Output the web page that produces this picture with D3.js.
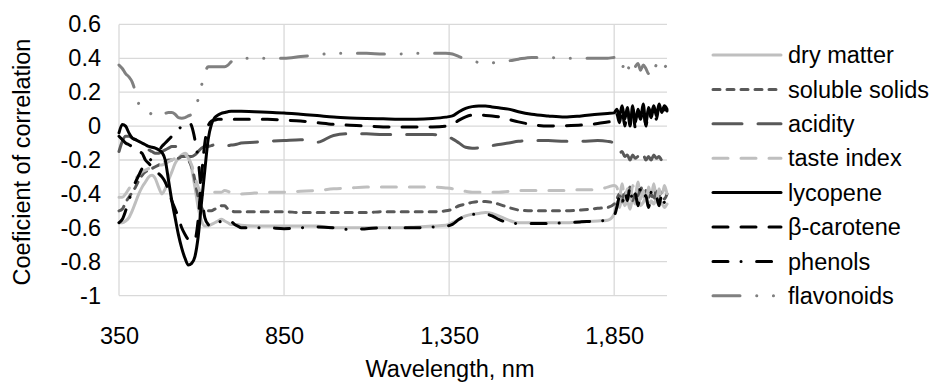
<!DOCTYPE html>
<html>
<head>
<meta charset="utf-8">
<script src="https://cdn.jsdelivr.net/npm/d3@7"></script>
<style>
  html, body { margin: 0; padding: 0; background: #fff; }
  svg { display: block; }
  text { font-family: "Liberation Sans", Arial, sans-serif; fill: #000; }
</style>
</head>
<body>
<svg id="chart" width="933" height="384"></svg>
<script>
// ---------- DATA ----------
const wavelengths = [
  350,360,370,380,390,400,410,420,430,440,450,460,470,480,490,500,510,520,530,540,
  550,560,570,580,590,600,610,620,630,640,650,660,670,680,690,700,710,720,
  760,800,850,900,950,1000,1050,1100,1150,1200,1250,1300,1340,1360,1380,1400,1420,1440,1460,1480,
  1500,1530,1560,1600,1650,1700,1750,1800,1830,1850,
  1858,1866,1874,1882,1890,1898,1906,1914,1922,1930,1938,1946,1954,1962,1970,1978,1986,1994,2002,2010
];

const dryMatter = [
  -0.57,-0.57,-0.56,-0.54,-0.5,-0.45,-0.4,-0.36,-0.33,-0.3,-0.29,-0.31,-0.36,-0.4,-0.37,-0.32,-0.27,-0.22,-0.19,-0.17,
  -0.16,-0.18,-0.25,-0.36,-0.48,-0.56,-0.59,-0.59,-0.58,-0.57,-0.56,-0.55,-0.56,-0.57,-0.58,-0.58,-0.58,-0.585,
  -0.59,-0.59,-0.59,-0.59,-0.59,-0.6,-0.6,-0.6,-0.6,-0.6,-0.595,-0.59,-0.585,-0.57,-0.55,-0.53,-0.52,-0.515,-0.51,-0.515,
  -0.53,-0.555,-0.57,-0.57,-0.57,-0.57,-0.565,-0.56,-0.555,-0.52,
  -0.45,-0.48,-0.42,-0.47,-0.44,-0.49,-0.43,-0.46,-0.4,-0.47,-0.45,-0.42,-0.48,-0.44,-0.46,-0.43,-0.47,-0.45,-0.48,-0.46
];

const solubleSolids = [
  -0.5,-0.49,-0.45,-0.42,-0.39,-0.36,-0.32,-0.29,-0.27,-0.26,-0.25,-0.24,-0.23,-0.22,-0.21,-0.2,-0.2,-0.19,-0.19,-0.18,
  -0.18,-0.2,-0.24,-0.32,-0.42,-0.48,-0.5,-0.5,-0.5,-0.49,-0.48,-0.47,-0.47,-0.49,-0.5,-0.505,-0.505,-0.505,
  -0.505,-0.505,-0.505,-0.51,-0.51,-0.51,-0.51,-0.51,-0.505,-0.505,-0.505,-0.505,-0.5,-0.49,-0.47,-0.46,-0.45,-0.445,-0.445,-0.45,
  -0.46,-0.48,-0.495,-0.5,-0.5,-0.5,-0.495,-0.485,-0.48,-0.46,
  -0.43,-0.4,-0.45,-0.38,-0.42,-0.36,-0.44,-0.39,-0.41,-0.35,-0.43,-0.38,-0.42,-0.4,-0.44,-0.37,-0.41,-0.39,-0.43,-0.4
];

const acidity = [
  -0.15,-0.09,-0.06,-0.06,-0.07,-0.08,-0.09,-0.1,-0.12,-0.14,-0.15,-0.16,-0.16,-0.15,-0.14,-0.13,-0.12,-0.12,-0.13,-0.15,
  -0.17,-0.18,-0.18,-0.17,-0.15,-0.13,-0.12,-0.12,-0.115,-0.11,-0.11,-0.115,-0.115,-0.115,-0.112,-0.11,-0.105,-0.1,
  -0.095,-0.09,-0.085,-0.08,-0.095,-0.055,-0.045,-0.045,-0.05,-0.05,-0.05,-0.05,-0.06,-0.075,-0.1,-0.125,-0.13,-0.128,-0.122,-0.115,
  -0.108,-0.1,-0.09,-0.085,-0.085,-0.09,-0.09,-0.085,-0.09,-0.1,
  -0.13,-0.16,-0.15,-0.18,-0.17,-0.2,-0.17,-0.19,-0.18,-0.21,-0.17,-0.2,-0.18,-0.2,-0.17,-0.19,-0.18,-0.2,-0.19,-0.2
];

const tasteIndex = [
  -0.42,-0.42,-0.4,-0.37,-0.34,-0.31,-0.29,-0.27,-0.26,-0.25,-0.24,-0.24,-0.23,-0.23,-0.22,-0.21,-0.2,-0.19,-0.18,-0.17,
  -0.17,-0.19,-0.23,-0.3,-0.36,-0.4,-0.41,-0.4,-0.395,-0.39,-0.39,-0.39,-0.38,-0.385,-0.395,-0.4,-0.4,-0.4,
  -0.395,-0.39,-0.39,-0.385,-0.38,-0.37,-0.365,-0.36,-0.36,-0.36,-0.36,-0.36,-0.365,-0.37,-0.38,-0.385,-0.39,-0.39,-0.39,-0.39,
  -0.39,-0.385,-0.38,-0.38,-0.38,-0.38,-0.375,-0.375,-0.36,-0.35,
  -0.36,-0.42,-0.34,-0.44,-0.37,-0.45,-0.35,-0.41,-0.33,-0.43,-0.38,-0.46,-0.36,-0.42,-0.34,-0.44,-0.37,-0.43,-0.35,-0.4
];

const lycopene = [
  -0.04,0.01,0.0,-0.04,-0.07,-0.08,-0.09,-0.1,-0.11,-0.12,-0.125,-0.13,-0.14,-0.155,-0.2,-0.32,-0.44,-0.54,-0.64,-0.72,
  -0.78,-0.82,-0.81,-0.77,-0.65,-0.45,-0.26,-0.08,0.01,0.05,0.065,0.075,0.08,0.085,0.088,0.088,0.088,0.087,
  0.085,0.082,0.078,0.07,0.062,0.053,0.048,0.045,0.043,0.041,0.041,0.045,0.053,0.06,0.085,0.105,0.115,0.118,0.118,0.113,
  0.108,0.1,0.085,0.07,0.06,0.053,0.06,0.07,0.075,0.078,
  0.1,0.06,0.12,0.04,0.11,0.0,0.12,0.02,0.1,0.05,0.13,0.01,0.11,0.07,0.12,0.06,0.13,0.08,0.12,0.1
];

const betaCarotene = [
  -0.06,-0.08,-0.1,-0.11,-0.12,-0.13,-0.15,-0.16,-0.2,-0.22,-0.24,-0.26,-0.28,-0.3,-0.33,-0.38,-0.44,-0.49,-0.54,-0.6,
  -0.64,-0.67,-0.68,-0.67,-0.55,-0.3,-0.1,0.0,0.03,0.035,0.04,0.04,0.04,0.04,0.04,0.04,0.04,0.04,
  0.04,0.04,0.035,0.03,0.02,0.01,0.005,0.0,-0.005,-0.006,-0.006,-0.005,0.0,0.01,0.035,0.055,0.065,0.065,0.063,0.06,
  0.055,0.04,0.025,0.01,0.0,0.002,0.006,0.015,0.024,0.03,
  0.07,0.02,0.1,0.0,0.09,0.03,0.11,-0.01,0.08,0.04,0.1,0.0,0.09,0.05,0.11,0.04,0.12,0.07,0.1,0.09
];

const phenols = [
  -0.57,-0.55,-0.5,-0.44,-0.38,-0.33,-0.29,-0.25,-0.23,-0.21,-0.19,-0.17,-0.15,-0.12,-0.1,-0.08,-0.06,-0.04,-0.02,0.0,
  0.02,0.03,0.0,-0.08,-0.2,-0.4,-0.54,-0.58,-0.59,-0.58,-0.57,-0.56,-0.55,-0.54,-0.56,-0.58,-0.59,-0.6,
  -0.6,-0.6,-0.605,-0.6,-0.595,-0.6,-0.61,-0.605,-0.6,-0.6,-0.6,-0.595,-0.59,-0.58,-0.55,-0.53,-0.52,-0.52,-0.52,-0.53,
  -0.55,-0.57,-0.575,-0.575,-0.575,-0.57,-0.565,-0.56,-0.555,-0.53,
  -0.48,-0.42,-0.46,-0.38,-0.44,-0.36,-0.45,-0.4,-0.47,-0.37,-0.43,-0.41,-0.48,-0.39,-0.44,-0.42,-0.47,-0.4,-0.45,-0.43
];

const flavonoids = [
  0.36,0.34,0.31,0.29,0.26,0.2,0.13,0.1,0.09,0.08,0.07,0.06,0.055,0.065,0.075,0.08,0.08,0.07,0.05,0.047,
  0.05,0.06,0.07,0.1,0.16,0.24,0.31,0.35,0.35,0.35,0.35,0.35,0.35,0.36,0.38,0.39,0.4,0.4,
  0.4,0.4,0.4,0.41,0.42,0.43,0.43,0.43,0.425,0.425,0.43,0.43,0.43,0.425,0.41,0.395,0.385,0.375,0.37,0.372,
  0.38,0.385,0.395,0.405,0.405,0.4,0.4,0.4,0.4,0.405,
  0.4,0.37,0.34,0.38,0.33,0.36,0.32,0.35,0.37,0.33,0.36,0.34,0.31,0.35,0.33,0.36,0.34,0.37,0.35,0.36
];

const seriesNames = ["dry matter","soluble solids","acidity","taste index","lycopene","β-carotene","phenols","flavonoids"];
const seriesValues = [dryMatter, solubleSolids, acidity, tasteIndex, lycopene, betaCarotene, phenols, flavonoids];
const xTickValues = [350, 850, 1350, 1850];
const yTickValues = [-1, -0.8, -0.6, -0.4, -0.2, 0, 0.2, 0.4, 0.6];

// ---------- STYLES ----------
const styles = [
  { color: "#bfbfbf", dash: null },
  { color: "#595959", dash: "7,7" },
  { color: "#595959", dash: "29,16" },
  { color: "#bfbfbf", dash: "15,13" },
  { color: "#000000", dash: null },
  { color: "#000000", dash: "15,13" },
  { color: "#000000", dash: "15,13,0.1,15.5" },
  { color: "#808080", dash: "27,16.7,0.1,16.6,0.1,16.7" }
];

// ---------- LAYOUT ----------
const svg = d3.select("#chart");
const plot = { left: 119, right: 667, top: 24.4, bottom: 295.6 };

const x = d3.scaleLinear().domain([350, 2010]).range([plot.left, plot.right]);
const y = d3.scaleLinear().domain([-1, 0.6]).range([plot.bottom, plot.top]);

const fontSize = 23.5;
const fontFamily = "'Liberation Sans', Arial, sans-serif";
const hyphenFormat = d => String(Math.round(d * 10) / 10).replace("\u2212", "-");

// gridlines
const grid = svg.append("g");
grid.selectAll("line.h").data(yTickValues).enter().append("line")
  .attr("x1", plot.left).attr("x2", plot.right)
  .attr("y1", d => y(d)).attr("y2", d => y(d))
  .attr("stroke", "#d9d9d9").attr("stroke-width", 1.3);
grid.selectAll("line.v").data(xTickValues).enter().append("line")
  .attr("x1", d => x(d)).attr("x2", d => x(d))
  .attr("y1", plot.top).attr("y2", plot.bottom)
  .attr("stroke", "#d9d9d9").attr("stroke-width", 1.3);

// axes (labels only; lines are the gridlines)
const yAxis = d3.axisLeft(y).tickValues(yTickValues).tickSize(0).tickPadding(18).tickFormat(hyphenFormat);
const gy = svg.append("g").attr("transform", `translate(${plot.left},0)`).call(yAxis);
gy.select(".domain").remove();
gy.selectAll("text").style("font-size", fontSize + "px").style("font-family", fontFamily);

const xAxis = d3.axisBottom(x).tickValues(xTickValues).tickSize(0).tickPadding(32).tickFormat(d3.format(","));
const gx = svg.append("g").attr("transform", `translate(0,${plot.bottom})`).call(xAxis);
gx.select(".domain").remove();
gx.selectAll("text").style("font-size", fontSize + "px").style("font-family", fontFamily);

// axis titles
svg.append("text")
  .attr("transform", `translate(30,162) rotate(-90)`)
  .attr("text-anchor", "middle")
  .style("font-size", fontSize + "px")
  .text("Coeficient of correlation");

svg.append("text")
  .attr("x", 450).attr("y", 377)
  .attr("text-anchor", "middle")
  .style("font-size", fontSize + "px")
  .text("Wavelength, nm");

// lines
const line = d3.line()
  .x((d, i) => x(wavelengths[i]))
  .y(d => y(d))
  .curve(d3.curveMonotoneX);

const lines = svg.append("g");
seriesValues.forEach((vals, k) => {
  lines.append("path")
    .attr("d", line(vals))
    .attr("fill", "none")
    .attr("stroke", styles[k].color)
    .attr("stroke-width", 3)
    .attr("stroke-linecap", "round")
    .attr("stroke-linejoin", "round")
    .attr("stroke-dasharray", styles[k].dash);
});

// legend
const legend = svg.append("g");
const legX1 = 713, legX2 = 781, legTextX = 788, legY0 = 55, legStep = 34.4;
seriesNames.forEach((name, k) => {
  const yy = legY0 + k * legStep;
  legend.append("line")
    .attr("x1", legX1).attr("x2", legX2).attr("y1", yy).attr("y2", yy)
    .attr("stroke", styles[k].color)
    .attr("stroke-width", 3)
    .attr("stroke-linecap", "round")
    .attr("stroke-dasharray", styles[k].dash);
  legend.append("text")
    .attr("x", legTextX).attr("y", yy)
    .attr("dy", "0.35em")
    .style("font-size", fontSize + "px")
    .text(name);
});
</script>
</body>
</html>
